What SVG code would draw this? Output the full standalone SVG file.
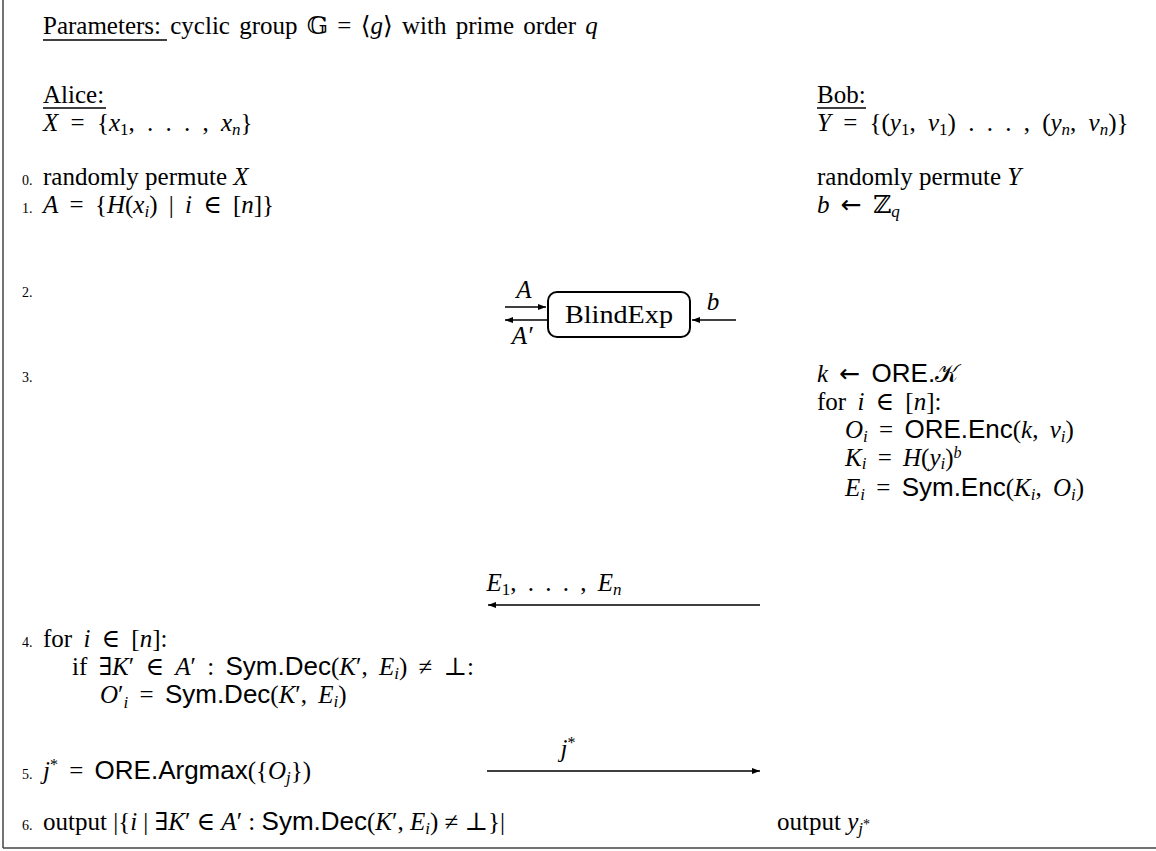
<svg xmlns="http://www.w3.org/2000/svg" width="1156" height="851" viewBox="0 0 1156 851">
<style>
text{font-family:"Liberation Serif","DejaVu Serif","DejaVu Sans",serif;font-size:25px;fill:#000}
.m{word-spacing:5px}
.w{word-spacing:6px}
.p{word-spacing:3px}
.i{font-style:italic}
.sf{font-family:"Liberation Sans","DejaVu Sans",sans-serif;font-style:normal;font-size:26px}
.ar{font-family:"DejaVu Sans",sans-serif;font-style:normal}
.sub{font-size:17px}
.sup{font-size:16px}
.num{font-size:14px}
.ln{stroke:#000;stroke-width:1.3;fill:none}
</style>
<defs>
<marker id="ah" viewBox="0 0 8 6" refX="8" refY="3" markerWidth="8" markerHeight="6" markerUnits="userSpaceOnUse" orient="auto">
<path d="M0,0 L8,3 L0,6 z" fill="#000"/>
</marker>
</defs>
<g id="frame">
<line x1="3" y1="0" x2="3" y2="848" stroke="#444" stroke-width="1.5"/>
<line x1="3" y1="848" x2="1156" y2="848" stroke="#444" stroke-width="1.5"/>
</g>
<g id="params">
<text x="43" y="34" class="p">Parameters: cyclic group 𝔾 = ⟨<tspan class="i">g</tspan>⟩ with prime order <tspan class="i">q</tspan></text>
<line x1="43" y1="40" x2="167" y2="40" class="ln"/>
</g>
<g id="alice-header">
<text x="43" y="103">Alice:</text>
<line x1="43" y1="108" x2="106" y2="108" class="ln"/>
<text x="43" y="131" class="w"><tspan class="i">X</tspan> = {<tspan class="i">x</tspan><tspan class="sub" dy="4">1</tspan><tspan dy="-4">, . . . , </tspan><tspan class="i">x</tspan><tspan class="sub i" dy="4">n</tspan><tspan dy="-4">}</tspan></text>
</g>
<g id="bob-header">
<text x="817" y="103">Bob:</text>
<line x1="817" y1="108" x2="866" y2="108" class="ln"/>
<text x="817" y="131" class="w"><tspan class="i">Y</tspan> = {(<tspan class="i">y</tspan><tspan class="sub" dy="4">1</tspan><tspan dy="-4">, </tspan><tspan class="i">v</tspan><tspan class="sub" dy="4">1</tspan><tspan dy="-4">) . . . , (</tspan><tspan class="i">y</tspan><tspan class="sub i" dy="4">n</tspan><tspan dy="-4">, </tspan><tspan class="i">v</tspan><tspan class="sub i" dy="4">n</tspan><tspan dy="-4">)}</tspan></text>
</g>
<g id="step0">
<text x="22" y="185" class="num">0.</text>
<text x="43" y="185">randomly permute <tspan class="i">X</tspan></text>
<text x="817" y="185">randomly permute <tspan class="i">Y</tspan></text>
</g>
<g id="step1">
<text x="22" y="213" class="num">1.</text>
<text x="43" y="213" class="m"><tspan class="i">A</tspan> = {<tspan class="i">H</tspan>(<tspan class="i">x</tspan><tspan class="sub i" dy="4">i</tspan><tspan dy="-4">) | </tspan><tspan class="i">i</tspan> ∈ [<tspan class="i">n</tspan>]}</text>
<text x="817" y="213" class="m"><tspan class="i">b</tspan> <tspan class="ar">←</tspan> ℤ<tspan class="sub i" dy="4">q</tspan></text>
</g>
<g id="step2">
<text x="22" y="297" class="num">2.</text>
</g>
<g id="blindexp">
<rect x="548" y="292" width="142" height="45" rx="9" ry="9" fill="#fff" stroke="#000" stroke-width="2"/>
<text x="619" y="323" text-anchor="middle" textLength="108" lengthAdjust="spacingAndGlyphs">BlindExp</text>
</g>
<g id="step3">
<text x="22" y="382" class="num">3.</text>
<text x="817" y="382" class="m"><tspan class="i">k</tspan> <tspan class="ar">←</tspan> <tspan class="sf">ORE.</tspan>𝒦</text>
<text x="817" y="410" class="m">for <tspan class="i">i</tspan> ∈ [<tspan class="i">n</tspan>]:</text>
<text x="845" y="438" class="m"><tspan class="i">O</tspan><tspan class="sub i" dy="4">i</tspan><tspan dy="-4"> = </tspan><tspan class="sf">ORE.Enc</tspan>(<tspan class="i">k</tspan>, <tspan class="i">v</tspan><tspan class="sub i" dy="4">i</tspan><tspan dy="-4">)</tspan></text>
<text x="845" y="466" class="m"><tspan class="i">K</tspan><tspan class="sub i" dy="3">i</tspan><tspan dy="-3"> = </tspan><tspan class="i">H</tspan>(<tspan class="i">y</tspan><tspan class="sub i" dy="3">i</tspan><tspan dy="-3">)</tspan><tspan class="sup i" dy="-8">b</tspan></text>
<text x="845" y="496" class="m"><tspan class="i">E</tspan><tspan class="sub i" dy="4">i</tspan><tspan dy="-4"> = </tspan><tspan class="sf">Sym.Enc</tspan>(<tspan class="i">K</tspan><tspan class="sub i" dy="4">i</tspan><tspan dy="-4">, </tspan><tspan class="i">O</tspan><tspan class="sub i" dy="4">i</tspan><tspan dy="-4">)</tspan></text>
</g>
<g id="step4">
<text x="22" y="647" class="num">4.</text>
<text x="43" y="647" class="m">for <tspan class="i">i</tspan> ∈ [<tspan class="i">n</tspan>]:</text>
<text x="72" y="675" class="m">if ∃<tspan class="i">K</tspan>′ ∈ <tspan class="i">A</tspan>′ : <tspan class="sf">Sym.Dec</tspan>(<tspan class="i">K</tspan>′, <tspan class="i">E</tspan><tspan class="sub i" dy="4">i</tspan><tspan dy="-4">) ≠ ⊥:</tspan></text>
<text x="100" y="703" class="m"><tspan class="i">O</tspan>′<tspan class="sub i" dy="5">i</tspan><tspan dy="-5"> = </tspan><tspan class="sf">Sym.Dec</tspan>(<tspan class="i">K</tspan>′, <tspan class="i">E</tspan><tspan class="sub i" dy="4">i</tspan><tspan dy="-4">)</tspan></text>
</g>
<g id="step5">
<text x="22" y="779" class="num">5.</text>
<text x="43" y="779" class="m"><tspan class="i">j</tspan><tspan class="sup" dy="-9">*</tspan><tspan dy="9"> = </tspan><tspan class="sf">ORE.Argmax</tspan>({<tspan class="i">O</tspan><tspan class="sub i" dy="4">j</tspan><tspan dy="-4">})</tspan></text>
</g>
<g id="step6">
<text x="22" y="830" class="num">6.</text>
<text x="43" y="830">output |{<tspan class="i">i</tspan> | ∃<tspan class="i">K</tspan>′ ∈ <tspan class="i">A</tspan>′ : <tspan class="sf">Sym.Dec</tspan>(<tspan class="i">K</tspan>′, <tspan class="i">E</tspan><tspan class="sub i" dy="4">i</tspan><tspan dy="-4">) ≠ ⊥}|</tspan></text>
<text x="777" y="830">output <tspan class="i">y</tspan><tspan class="sub i" dy="4">j</tspan><tspan class="num" dy="-5">*</tspan></text>
</g>
<g id="connectors">
<line x1="505" y1="307" x2="546" y2="307" class="ln" marker-end="url(#ah)"/>
<line x1="548" y1="320" x2="505" y2="320" class="ln" marker-end="url(#ah)"/>
<line x1="736" y1="320" x2="692" y2="320" class="ln" marker-end="url(#ah)"/>
<line x1="760" y1="605" x2="488" y2="605" class="ln" marker-end="url(#ah)"/>
<line x1="487" y1="771" x2="760" y2="771" class="ln" marker-end="url(#ah)"/>
<text x="524" y="298" class="i" text-anchor="middle">A</text>
<text x="522" y="344" class="i" text-anchor="middle">A′</text>
<text x="713" y="310" class="i" text-anchor="middle">b</text>
<text x="554" y="591" text-anchor="middle" class="m"><tspan class="i">E</tspan><tspan class="sub" dy="4">1</tspan><tspan dy="-4">, . . . , </tspan><tspan class="i">E</tspan><tspan class="sub i" dy="4">n</tspan></text>
<text x="568" y="757" text-anchor="middle"><tspan class="i">j</tspan><tspan class="sup" dy="-9">*</tspan></text>
</g>
</svg>
